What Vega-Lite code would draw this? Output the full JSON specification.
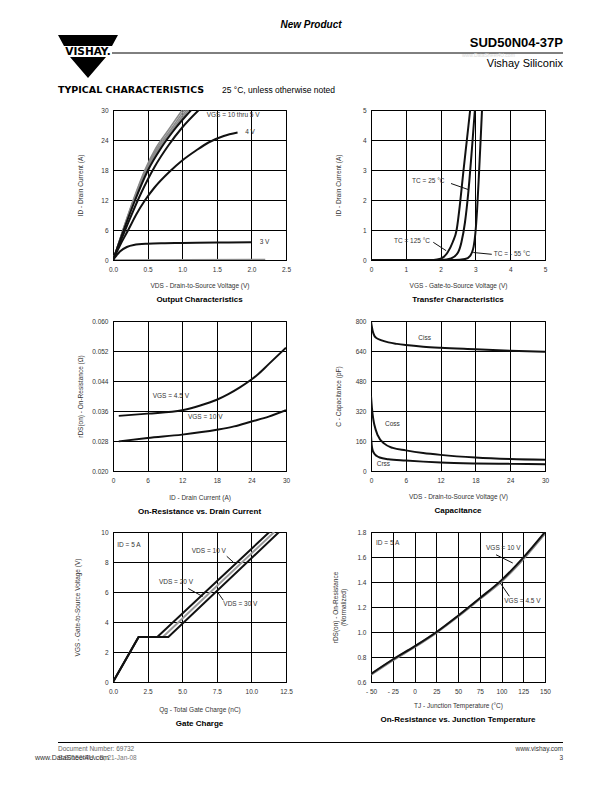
{
"$schema": "https://vega.github.io/schema/vega-lite/v6.json",
"padding": 0,
"background": "white",
"config": {
  "font": "Liberation Sans",
  "view": {"stroke": "#000", "strokeWidth": 1},
  "axis": {"grid": true, "gridColor": "#000", "gridWidth": 1, "gridOpacity": 1, "domainColor": "#000", "domainWidth": 1, "ticks": false, "labelFontSize": 6.5, "labelColor": "#333", "labelFont": "Liberation Sans", "labelPadding": 5, "labelOverlap": false, "labelFlush": false, "labelBound": false, "titleFont": "Liberation Sans", "titleFontSize": 6.5, "titleFontWeight": "normal", "titleColor": "#333"},
  "axisX": {"titleBaseline": "middle", "titleAlign": "center", "labelPadding": 6},
  "axisY": {"titleAngle": 270, "titleBaseline": "middle", "titleAlign": "center"},
  "title": {"font": "Liberation Sans", "fontSize": 8, "fontWeight": "bold", "color": "#000", "orient": "bottom", "offset": 7, "anchor": "middle"},
  "text": {"font": "Liberation Sans"}
},
"datasets": {
  "p1": [
    {"x":0,"y":0,"s":10},{"x":0.15,"y":6.3,"s":10},{"x":0.3,"y":12.3,"s":10},{"x":0.46,"y":18,"s":10},{"x":0.62,"y":22.4,"s":10},{"x":0.8,"y":26.0,"s":10},{"x":1.0,"y":30,"s":10},
    {"x":0,"y":0,"s":9},{"x":0.15,"y":6.2,"s":9},{"x":0.3,"y":12.1,"s":9},{"x":0.47,"y":18,"s":9},{"x":0.64,"y":22.4,"s":9},{"x":0.82,"y":25.8,"s":9},{"x":1.03,"y":30,"s":9},
    {"x":0,"y":0,"s":8},{"x":0.15,"y":6.1,"s":8},{"x":0.3,"y":11.9,"s":8},{"x":0.48,"y":18,"s":8},{"x":0.66,"y":22.4,"s":8},{"x":0.85,"y":25.9,"s":8},{"x":1.06,"y":30,"s":8},
    {"x":0,"y":0,"s":7},{"x":0.15,"y":6.0,"s":7},{"x":0.3,"y":11.7,"s":7},{"x":0.49,"y":18,"s":7},{"x":0.68,"y":22.5,"s":7},{"x":0.88,"y":26.2,"s":7},{"x":1.09,"y":30,"s":7},
    {"x":0,"y":0,"s":6},{"x":0.15,"y":5.8,"s":6},{"x":0.3,"y":11.3,"s":6},{"x":0.5,"y":17.8,"s":6},{"x":0.7,"y":22.5,"s":6},{"x":0.9,"y":26.3,"s":6},{"x":1.13,"y":30,"s":6},
    {"x":0,"y":0,"s":5},{"x":0.2,"y":6.8,"s":5},{"x":0.4,"y":13.2,"s":5},{"x":0.6,"y":18.6,"s":5},{"x":0.8,"y":22.9,"s":5},{"x":1.0,"y":26.5,"s":5},{"x":1.24,"y":30,"s":5},
    {"x":0,"y":0,"s":4},{"x":0.1,"y":2.9,"s":4},{"x":0.22,"y":6,"s":4},{"x":0.34,"y":9.2,"s":4},{"x":0.46,"y":11.9,"s":4},{"x":0.6,"y":14.5,"s":4},{"x":0.82,"y":17.7,"s":4},{"x":1.0,"y":19.9,"s":4},{"x":1.2,"y":21.9,"s":4},{"x":1.38,"y":23.5,"s":4},{"x":1.6,"y":24.8,"s":4},{"x":1.8,"y":25.5,"s":4},
    {"x":0,"y":0,"s":3},{"x":0.05,"y":0.9,"s":3},{"x":0.1,"y":1.7,"s":3},{"x":0.2,"y":2.6,"s":3},{"x":0.3,"y":3.0,"s":3},{"x":0.5,"y":3.25,"s":3},{"x":0.75,"y":3.35,"s":3},{"x":1.0,"y":3.4,"s":3},{"x":1.5,"y":3.5,"s":3},{"x":2.0,"y":3.55,"s":3},
    {"x":0,"y":0,"s":2},{"x":2.2,"y":0.1,"s":2}
  ],
  "a1": [{"x":1.354,"y":29.1,"label":"VGS = 10 thru 5 V"},{"x":1.91,"y":25.6,"label":"4 V"},{"x":2.12,"y":3.56,"label":"3 V"}],
  "p2": [
    {"x":0,"y":0,"s":"125"},{"x":1.8,"y":0,"s":"125"},{"x":2.0,"y":0.04,"s":"125"},{"x":2.2,"y":0.25,"s":"125"},{"x":2.35,"y":0.6,"s":"125"},{"x":2.46,"y":1.0,"s":"125"},{"x":2.56,"y":1.9,"s":"125"},{"x":2.65,"y":2.9,"s":"125"},{"x":2.75,"y":3.95,"s":"125"},{"x":2.85,"y":5.0,"s":"125"},
    {"x":0,"y":0,"s":"25"},{"x":2.05,"y":0,"s":"25"},{"x":2.3,"y":0.05,"s":"25"},{"x":2.5,"y":0.25,"s":"25"},{"x":2.6,"y":0.6,"s":"25"},{"x":2.7,"y":1.25,"s":"25"},{"x":2.8,"y":2.3,"s":"25"},{"x":2.9,"y":3.7,"s":"25"},{"x":2.985,"y":5.0,"s":"25"},
    {"x":0,"y":0,"s":"-55"},{"x":2.4,"y":0,"s":"-55"},{"x":2.7,"y":0.03,"s":"-55"},{"x":2.85,"y":0.14,"s":"-55"},{"x":2.95,"y":0.45,"s":"-55"},{"x":3.0,"y":0.9,"s":"-55"},{"x":3.05,"y":1.7,"s":"-55"},{"x":3.1,"y":2.8,"s":"-55"},{"x":3.15,"y":4.0,"s":"-55"},{"x":3.19,"y":5.0,"s":"-55"}
  ],
  "a2": [{"x":1.18,"y":2.62,"label":"TC = 25 °C"},{"x":0.66,"y":0.64,"label":"TC = 125 °C"},{"x":3.53,"y":0.2,"label":"TC = - 55 °C"}],
  "r2": [{"x":2.30,"y":2.55,"x2":2.79,"y2":2.35},{"x":1.79,"y":0.59,"x2":2.16,"y2":0.31},{"x":3.47,"y":0.19,"x2":2.94,"y2":0.25}],
  "p3": [
    {"x":1,"y":0.0347,"s":"4.5"},{"x":6,"y":0.0353,"s":"4.5"},{"x":12,"y":0.0362,"s":"4.5"},{"x":15,"y":0.0374,"s":"4.5"},{"x":18,"y":0.0390,"s":"4.5"},{"x":20,"y":0.0405,"s":"4.5"},{"x":22,"y":0.0423,"s":"4.5"},{"x":24,"y":0.0444,"s":"4.5"},{"x":25,"y":0.0456,"s":"4.5"},{"x":27,"y":0.0485,"s":"4.5"},{"x":30,"y":0.0529,"s":"4.5"},
    {"x":1,"y":0.0279,"s":"10"},{"x":6,"y":0.0288,"s":"10"},{"x":12,"y":0.0297,"s":"10"},{"x":18,"y":0.0310,"s":"10"},{"x":21,"y":0.0319,"s":"10"},{"x":24,"y":0.0332,"s":"10"},{"x":27,"y":0.0345,"s":"10"},{"x":30,"y":0.0362,"s":"10"}
  ],
  "a3": [{"x":6.88,"y":0.0401,"label":"VGS = 4.5 V"},{"x":13.0,"y":0.0343,"label":"VGS = 10 V"}],
  "p4": [
    {"x":0,"y":796,"s":"Ciss"},{"x":0.3,"y":745,"s":"Ciss"},{"x":0.6,"y":720,"s":"Ciss"},{"x":0.9,"y":710,"s":"Ciss"},{"x":1.7,"y":698,"s":"Ciss"},{"x":3,"y":686,"s":"Ciss"},{"x":4.5,"y":678,"s":"Ciss"},{"x":6,"y":672,"s":"Ciss"},{"x":9,"y":663,"s":"Ciss"},{"x":12,"y":657,"s":"Ciss"},{"x":18,"y":649,"s":"Ciss"},{"x":24,"y":641,"s":"Ciss"},{"x":30,"y":636,"s":"Ciss"},
    {"x":0,"y":400,"s":"Coss"},{"x":0.17,"y":333,"s":"Coss"},{"x":0.4,"y":275,"s":"Coss"},{"x":0.6,"y":244,"s":"Coss"},{"x":1.15,"y":191,"s":"Coss"},{"x":2.3,"y":146,"s":"Coss"},{"x":3.75,"y":123,"s":"Coss"},{"x":6,"y":110,"s":"Coss"},{"x":9,"y":96,"s":"Coss"},{"x":12,"y":86,"s":"Coss"},{"x":18,"y":72,"s":"Coss"},{"x":24,"y":64,"s":"Coss"},{"x":30,"y":60,"s":"Coss"},
    {"x":0,"y":190,"s":"Crss"},{"x":0.12,"y":140,"s":"Crss"},{"x":0.25,"y":115,"s":"Crss"},{"x":0.5,"y":96,"s":"Crss"},{"x":1,"y":80,"s":"Crss"},{"x":1.5,"y":72,"s":"Crss"},{"x":3,"y":63,"s":"Crss"},{"x":6,"y":56,"s":"Crss"},{"x":9,"y":50,"s":"Crss"},{"x":12,"y":45,"s":"Crss"},{"x":18,"y":40,"s":"Crss"},{"x":24,"y":38,"s":"Crss"},{"x":30,"y":36,"s":"Crss"}
  ],
  "a4": [{"x":8.16,"y":712,"label":"Ciss"},{"x":2.41,"y":253,"label":"Coss"},{"x":0.98,"y":35,"label":"Crss"}],
  "p5": [
    {"x":0,"y":0,"s":"20"},{"x":1.85,"y":3,"s":"20"},{"x":3.6,"y":3,"s":"20"},{"x":11.65,"y":10,"s":"20"},
    {"x":0,"y":0,"s":"10"},{"x":1.85,"y":3,"s":"10"},{"x":3.2,"y":3,"s":"10"},{"x":11.3,"y":10,"s":"10"},
    {"x":0,"y":0,"s":"30"},{"x":1.85,"y":3,"s":"30"},{"x":4.0,"y":3,"s":"30"},{"x":12.0,"y":10,"s":"30"}
  ],
  "a5": [{"x":0.31,"y":9.11,"label":"ID = 5 A"},{"x":5.69,"y":8.72,"label":"VDS = 10 V"},{"x":3.32,"y":6.66,"label":"VDS = 20 V"},{"x":7.97,"y":5.23,"label":"VDS = 30 V"}],
  "r5": [{"x":8.22,"y":8.38,"x2":8.69,"y2":7.99},{"x":5.44,"y":6.23,"x2":6.48,"y2":5.70},{"x":7.97,"y":5.45,"x2":7.49,"y2":6.07}],
  "p6": [
    {"x":-50,"y":0.66,"s":"10"},{"x":-25,"y":0.775,"s":"10"},{"x":0,"y":0.88,"s":"10"},{"x":25,"y":0.995,"s":"10"},{"x":50,"y":1.125,"s":"10"},{"x":75,"y":1.265,"s":"10"},{"x":100,"y":1.405,"s":"10"},{"x":125,"y":1.585,"s":"10"},{"x":150,"y":1.79,"s":"10"},
    {"x":-50,"y":0.665,"s":"4.5"},{"x":-25,"y":0.78,"s":"4.5"},{"x":0,"y":0.885,"s":"4.5"},{"x":25,"y":0.998,"s":"4.5"},{"x":50,"y":1.13,"s":"4.5"},{"x":75,"y":1.27,"s":"4.5"},{"x":100,"y":1.415,"s":"4.5"},{"x":125,"y":1.595,"s":"4.5"},{"x":150,"y":1.80,"s":"4.5"}
  ],
  "a6": [{"x":-44.25,"y":1.712,"label":"ID = 5 A"},{"x":82.2,"y":1.672,"label":"VGS = 10 V"},{"x":103.2,"y":1.25,"label":"VGS = 4.5 V"}],
  "r6": [{"x":93.7,"y":1.618,"x2":112.9,"y2":1.552},{"x":109,"y":1.286,"x2":98.6,"y2":1.392}]
},
"columns": 2,
"bounds": "flush",
"spacing": {"row": 61, "column": 85},
"concat": [
  {
    "width": 173, "height": 49, "view": {"stroke": null},
    "layer": [
      {"data": {"values": [{}]}, "mark": {"type": "rule", "strokeOpacity": 0},
       "encoding": {"x": {"datum": 0, "type": "quantitative", "scale": {"domain": [113, 286], "nice": false, "zero": false}, "axis": null}, "x2": {"datum": 612}, "y": {"datum": 0, "type": "quantitative", "scale": {"domain": [0, 49], "reverse": true, "nice": false, "zero": false}, "axis": null}}},
      {"data": {"values": [{"label": "New Product"}]}, "mark": {"type": "text", "fontSize": 10, "fontWeight": "bold", "fontStyle": "italic", "align": "center", "baseline": "middle", "color": "#000"},
       "encoding": {"x": {"datum": 311, "type": "quantitative"}, "y": {"datum": 25, "type": "quantitative"}, "text": {"field": "label"}}},
      {"data": {"values": [{}]}, "mark": {"type": "point", "shape": "M-1,-0.717L1,-0.717L0.8,-0.35L-0.8,-0.35Z M-0.6,0.02L0.6,0.02L0,0.717Z", "size": 3600, "filled": true, "color": "#000", "opacity": 1, "strokeWidth": 0},
       "encoding": {"x": {"datum": 88, "type": "quantitative"}, "y": {"datum": 56.5, "type": "quantitative"}}},
      {"data": {"values": [{"label": "VISHAY."}]}, "mark": {"type": "text", "font": "DejaVu Sans", "fontSize": 10.5, "fontWeight": "bold", "align": "center", "baseline": "alphabetic", "color": "#000"},
       "encoding": {"x": {"datum": 88, "type": "quantitative"}, "y": {"datum": 55, "type": "quantitative"}, "text": {"field": "label"}}},
      {"data": {"values": [{}]}, "mark": {"type": "rule", "color": "#000", "strokeWidth": 1},
       "encoding": {"x": {"datum": 112, "type": "quantitative"}, "x2": {"datum": 563}, "y": {"datum": 53, "type": "quantitative"}}},
      {"data": {"values": [{"label": "TYPICAL CHARACTERISTICS"}]}, "mark": {"type": "text", "font": "DejaVu Sans", "fontSize": 9.5, "fontWeight": "bold", "align": "left", "baseline": "middle", "color": "#000"},
       "encoding": {"x": {"datum": 58, "type": "quantitative"}, "y": {"datum": 90, "type": "quantitative"}, "text": {"field": "label"}}},
      {"data": {"values": [{"label": "25 °C, unless otherwise noted"}]}, "mark": {"type": "text", "fontSize": 8.5, "align": "left", "baseline": "middle", "color": "#000"},
       "encoding": {"x": {"datum": 222, "type": "quantitative"}, "y": {"datum": 90, "type": "quantitative"}, "text": {"field": "label"}}}
    ]
  },
  {
    "width": 174, "height": 49, "view": {"stroke": null},
    "layer": [
      {"data": {"values": [{"label": "SUD50N04-37P"}]}, "mark": {"type": "text", "fontSize": 13, "fontWeight": "bold", "align": "right", "baseline": "middle", "color": "#000"},
       "encoding": {"x": {"datum": 563, "type": "quantitative", "scale": {"domain": [371, 545], "nice": false, "zero": false}, "axis": null}, "y": {"datum": 43, "type": "quantitative", "scale": {"domain": [0, 49], "reverse": true, "nice": false, "zero": false}, "axis": null}, "text": {"field": "label"}}},
      {"data": {"values": [{"label": "www.DataSheet4U.com"}]}, "mark": {"type": "text", "fontSize": 5, "align": "left", "baseline": "middle", "color": "#d8d8d8"},
       "encoding": {"x": {"datum": 462, "type": "quantitative"}, "y": {"datum": 55, "type": "quantitative"}, "text": {"field": "label"}}},
      {"data": {"values": [{"label": "Vishay Siliconix"}]}, "mark": {"type": "text", "fontSize": 11, "align": "right", "baseline": "middle", "color": "#000"},
       "encoding": {"x": {"datum": 563, "type": "quantitative"}, "y": {"datum": 63.5, "type": "quantitative"}, "text": {"field": "label"}}}
    ]
  },
  {
    "width": 173, "height": 150,
    "title": {"text": "Output Characteristics"},
    "encoding": {
      "x": {"field": "x", "type": "quantitative", "scale": {"domain": [0, 2.5], "nice": false, "zero": false}, "axis": {"values": [0, 0.5, 1, 1.5, 2, 2.5], "format": ".1f", "title": "VDS - Drain-to-Source Voltage (V)", "titleX": 86.5, "titleY": 25}},
      "y": {"field": "y", "type": "quantitative", "scale": {"domain": [0, 30], "nice": false, "zero": false}, "axis": {"values": [0, 6, 12, 18, 24, 30], "title": "ID - Drain Current (A)", "titleX": -33, "titleY": 75}}
    },
    "layer": [
      {"data": {"name": "p1"}, "transform": [{"filter": "datum.s >= 7 || datum.s == 2"}], "mark": {"type": "line", "color": "#8a8a8a", "strokeWidth": 1.5, "interpolate": "monotone", "clip": true}, "encoding": {"detail": {"field": "s", "type": "nominal"}}},
      {"data": {"name": "p1"}, "transform": [{"filter": "datum.s <= 6 && datum.s >= 3"}], "mark": {"type": "line", "color": "#111", "strokeWidth": 2, "interpolate": "monotone", "clip": true}, "encoding": {"detail": {"field": "s", "type": "nominal"}}},
      {"data": {"name": "a1"}, "mark": {"type": "text", "fontSize": 6.5, "align": "left", "baseline": "middle", "color": "#333"}, "encoding": {"text": {"field": "label"}}}
    ]
  },
  {
    "width": 174, "height": 150,
    "title": {"text": "Transfer Characteristics"},
    "encoding": {
      "x": {"field": "x", "type": "quantitative", "scale": {"domain": [0, 5], "nice": false, "zero": false}, "axis": {"values": [0, 1, 2, 3, 4, 5], "title": "VGS - Gate-to-Source Voltage (V)", "titleX": 87, "titleY": 25}},
      "y": {"field": "y", "type": "quantitative", "scale": {"domain": [0, 5], "nice": false, "zero": false}, "axis": {"values": [0, 1, 2, 3, 4, 5], "title": "ID - Drain Current (A)", "titleX": -33, "titleY": 75}}
    },
    "layer": [
      {"data": {"name": "p2"}, "mark": {"type": "line", "color": "#111", "strokeWidth": 2, "interpolate": "monotone", "clip": true}, "encoding": {"detail": {"field": "s", "type": "nominal"}}},
      {"data": {"name": "r2"}, "mark": {"type": "rule", "color": "#111", "strokeWidth": 1}, "encoding": {"x2": {"field": "x2"}, "y2": {"field": "y2"}}},
      {"data": {"name": "a2"}, "mark": {"type": "text", "fontSize": 6.5, "align": "left", "baseline": "middle", "color": "#333"}, "encoding": {"text": {"field": "label"}}}
    ]
  },
  {
    "width": 173, "height": 150,
    "title": {"text": "On-Resistance vs. Drain Current"},
    "encoding": {
      "x": {"field": "x", "type": "quantitative", "scale": {"domain": [0, 30], "nice": false, "zero": false}, "axis": {"values": [0, 6, 12, 18, 24, 30], "title": "ID - Drain Current (A)", "titleX": 86.5, "titleY": 26}},
      "y": {"field": "y", "type": "quantitative", "scale": {"domain": [0.02, 0.06], "nice": false, "zero": false}, "axis": {"values": [0.02, 0.028, 0.036, 0.044, 0.052, 0.06], "format": ".3f", "title": "rDS(on) - On-Resistance (Ω)", "titleX": -33, "titleY": 75}}
    },
    "layer": [
      {"data": {"name": "p3"}, "mark": {"type": "line", "color": "#111", "strokeWidth": 2, "interpolate": "monotone", "clip": true}, "encoding": {"detail": {"field": "s", "type": "nominal"}}},
      {"data": {"name": "a3"}, "mark": {"type": "text", "fontSize": 6.5, "align": "left", "baseline": "middle", "color": "#333"}, "encoding": {"text": {"field": "label"}}}
    ]
  },
  {
    "width": 174, "height": 150,
    "title": {"text": "Capacitance"},
    "encoding": {
      "x": {"field": "x", "type": "quantitative", "scale": {"domain": [0, 30], "nice": false, "zero": false}, "axis": {"values": [0, 6, 12, 18, 24, 30], "title": "VDS - Drain-to-Source Voltage (V)", "titleX": 87, "titleY": 25}},
      "y": {"field": "y", "type": "quantitative", "scale": {"domain": [0, 800], "nice": false, "zero": false}, "axis": {"values": [0, 160, 320, 480, 640, 800], "title": "C - Capacitance (pF)", "titleX": -33, "titleY": 75}}
    },
    "layer": [
      {"data": {"name": "p4"}, "mark": {"type": "line", "color": "#111", "strokeWidth": 2, "interpolate": "monotone", "clip": true}, "encoding": {"detail": {"field": "s", "type": "nominal"}}},
      {"data": {"name": "a4"}, "mark": {"type": "text", "fontSize": 6.5, "align": "left", "baseline": "middle", "color": "#333"}, "encoding": {"text": {"field": "label"}}}
    ]
  },
  {
    "width": 173, "height": 150,
    "title": {"text": "Gate Charge"},
    "encoding": {
      "x": {"field": "x", "type": "quantitative", "scale": {"domain": [0, 12.5], "nice": false, "zero": false}, "axis": {"values": [0, 2.5, 5, 7.5, 10, 12.5], "format": ".1f", "title": "Qg - Total Gate Charge (nC)", "titleX": 86.5, "titleY": 27}},
      "y": {"field": "y", "type": "quantitative", "scale": {"domain": [0, 10], "nice": false, "zero": false}, "axis": {"values": [0, 2, 4, 6, 8, 10], "title": "VGS - Gate-to-Source Voltage (V)", "titleX": -36, "titleY": 75}}
    },
    "layer": [
      {"data": {"name": "p5"}, "transform": [{"filter": "datum.s == '20'"}], "mark": {"type": "line", "color": "#9a9a9a", "strokeWidth": 2, "clip": true}, "encoding": {"detail": {"field": "s", "type": "nominal"}}},
      {"data": {"name": "p5"}, "transform": [{"filter": "datum.s != '20'"}], "mark": {"type": "line", "color": "#111", "strokeWidth": 2, "clip": true}, "encoding": {"detail": {"field": "s", "type": "nominal"}}},
      {"data": {"name": "r5"}, "mark": {"type": "rule", "color": "#111", "strokeWidth": 1}, "encoding": {"x2": {"field": "x2"}, "y2": {"field": "y2"}}},
      {"data": {"name": "a5"}, "mark": {"type": "text", "fontSize": 6.5, "align": "left", "baseline": "middle", "color": "#333"}, "encoding": {"text": {"field": "label"}}}
    ]
  },
  {
    "width": 174, "height": 150,
    "title": {"text": "On-Resistance vs. Junction Temperature"},
    "encoding": {
      "x": {"field": "x", "type": "quantitative", "scale": {"domain": [-50, 150], "nice": false, "zero": false}, "axis": {"values": [-50, -25, 0, 25, 50, 75, 100, 125, 150], "labelExpr": "datum.value < 0 ? '- ' + abs(datum.value) : datum.label", "title": "TJ - Junction Temperature (°C)", "titleX": 87, "titleY": 23}},
      "y": {"field": "y", "type": "quantitative", "scale": {"domain": [0.6, 1.8], "nice": false, "zero": false}, "axis": {"values": [0.6, 0.8, 1.0, 1.2, 1.4, 1.6, 1.8], "format": ".1f", "title": ["rDS(on) - On-Resistance", "(Normalized)"], "titleX": -36, "titleY": 75}}
    },
    "layer": [
      {"data": {"name": "p6"}, "transform": [{"filter": "datum.s == '10'"}], "mark": {"type": "line", "color": "#888", "strokeWidth": 2.5, "interpolate": "monotone", "clip": true}},
      {"data": {"name": "p6"}, "transform": [{"filter": "datum.s == '4.5'"}], "mark": {"type": "line", "color": "#111", "strokeWidth": 2, "interpolate": "monotone", "clip": true}},
      {"data": {"name": "r6"}, "mark": {"type": "rule", "color": "#111", "strokeWidth": 1}, "encoding": {"x2": {"field": "x2"}, "y2": {"field": "y2"}}},
      {"data": {"name": "a6"}, "mark": {"type": "text", "fontSize": 6.5, "align": "left", "baseline": "middle", "color": "#333"}, "encoding": {"text": {"field": "label"}}}
    ]
  },
  {
    "width": 173, "height": 49, "view": {"stroke": null},
    "layer": [
      {"data": {"values": [{}]}, "mark": {"type": "rule", "color": "#000", "strokeWidth": 1},
       "encoding": {"x": {"datum": 58, "type": "quantitative", "scale": {"domain": [113, 286], "nice": false, "zero": false}, "axis": null}, "x2": {"datum": 563}, "y": {"datum": 742.5, "type": "quantitative", "scale": {"domain": [743, 792], "reverse": true, "nice": false, "zero": false}, "axis": null}}},
      {"data": {"values": [{"label": "Document Number: 69732"}]}, "mark": {"type": "text", "fontSize": 6.5, "align": "left", "baseline": "middle", "color": "#666"},
       "encoding": {"x": {"datum": 58, "type": "quantitative"}, "y": {"datum": 749, "type": "quantitative"}, "text": {"field": "label"}}},
      {"data": {"values": [{"label": "S-80150-Rev. B, 21-Jan-08"}]}, "mark": {"type": "text", "fontSize": 6.5, "align": "left", "baseline": "middle", "color": "#777"},
       "encoding": {"x": {"datum": 58, "type": "quantitative"}, "y": {"datum": 758, "type": "quantitative"}, "text": {"field": "label"}}},
      {"data": {"values": [{"label": "www.DataSheet4U.com"}]}, "mark": {"type": "text", "fontSize": 7, "align": "left", "baseline": "middle", "color": "#333"},
       "encoding": {"x": {"datum": 35, "type": "quantitative"}, "y": {"datum": 758, "type": "quantitative"}, "text": {"field": "label"}}}
    ]
  },
  {
    "width": 174, "height": 49, "view": {"stroke": null},
    "layer": [
      {"data": {"values": [{"label": "www.vishay.com"}]}, "mark": {"type": "text", "fontSize": 6.5, "align": "right", "baseline": "middle", "color": "#333"},
       "encoding": {"x": {"datum": 563, "type": "quantitative", "scale": {"domain": [371, 545], "nice": false, "zero": false}, "axis": null}, "y": {"datum": 749, "type": "quantitative", "scale": {"domain": [743, 792], "reverse": true, "nice": false, "zero": false}, "axis": null}, "text": {"field": "label"}}},
      {"data": {"values": [{"label": "3"}]}, "mark": {"type": "text", "fontSize": 6.5, "align": "right", "baseline": "middle", "color": "#333"},
       "encoding": {"x": {"datum": 563, "type": "quantitative"}, "y": {"datum": 758, "type": "quantitative"}, "text": {"field": "label"}}}
    ]
  }
]
}
